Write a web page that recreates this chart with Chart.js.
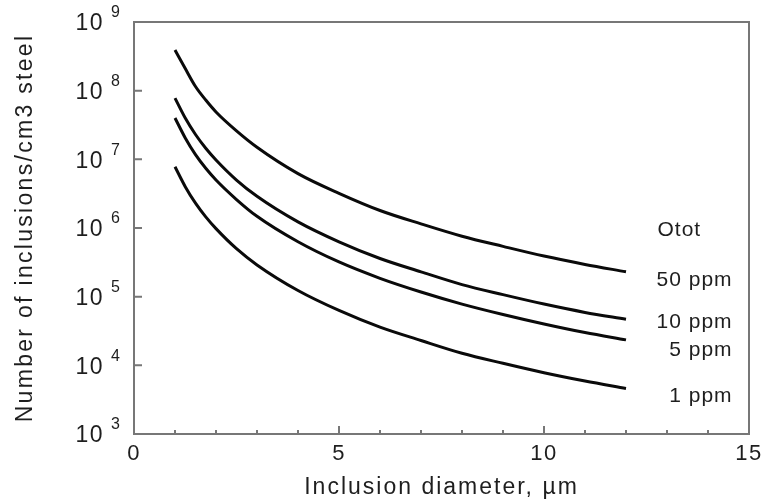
<!DOCTYPE html>
<html>
<head>
<meta charset="utf-8">
<script src="https://cdn.jsdelivr.net/npm/chart.js@4.4.1/dist/chart.umd.min.js"></script>
<style>
  html, body { margin: 0; background: #fff; }
</style>
</head>
<body>
<canvas id="chart" width="763" height="504"></canvas>
<script>
// inclusion diameter (um) and number of inclusions per cm3 steel
const diameters = [1, 1.25, 1.5, 1.75, 2, 2.5, 3, 4, 5, 6, 7, 8, 9, 10, 11, 12];
const ppm50 = [3.9e8, 2.1e8, 1.15e8, 7.3e7, 4.9e7, 2.6e7, 1.5e7, 6.2e6, 3.2e6, 1.8e6, 1.15e6, 7.6e5, 5.4e5, 3.9e5, 2.95e5, 2.3e5];
const ppm10 = [7.8e7, 4.0e7, 2.3e7, 1.45e7, 9.8e6, 5.0e6, 2.9e6, 1.23e6, 6.3e5, 3.6e5, 2.3e5, 1.5e5, 1.07e5, 7.8e4, 5.9e4, 4.7e4];
const ppm5  = [4.0e7, 2.05e7, 1.17e7, 7.4e6, 5.0e6, 2.6e6, 1.48e6, 6.3e5, 3.2e5, 1.85e5, 1.17e5, 7.8e4, 5.5e4, 4.0e4, 3.0e4, 2.35e4];
const ppm1  = [7.8e6, 4.0e6, 2.3e6, 1.45e6, 9.8e5, 5.0e5, 2.9e5, 1.23e5, 6.3e4, 3.6e4, 2.3e4, 1.5e4, 1.07e4, 7.8e3, 5.9e3, 4.6e3];

const seriesNames = ["50 ppm", "10 ppm", "5 ppm", "1 ppm"];
const seriesLabelY = [1.74e5, 4.3e4, 1.66e4, 3.5e3];
const legendTitle = "Otot";
const legendTitleY = 9.3e5;

const xTicks = [0, 5, 10, 15];
const yExponents = [3, 4, 5, 6, 7, 8, 9];

const TEXT = "#1e1e1e";
const FONT = "Liberation Sans, Arial, sans-serif";

const toPoints = ys => diameters.map((d, i) => ({ x: d, y: ys[i] }));

/* axes frame, tick marks and all texts */
const frameAndText = {
  id: "frameAndText",
  afterDraw(chart) {
    const { ctx, chartArea: a, scales } = chart;
    const x = scales.x, y = scales.y;
    ctx.save();

    // frame
    ctx.strokeStyle = "#777";
    ctx.lineWidth = 2;
    ctx.strokeRect(a.left, a.top, a.right - a.left, a.bottom - a.top);

    // inward ticks
    ctx.beginPath();
    for (let i = 1; i < 15; i++) {
      const px = x.getPixelForValue(i);
      ctx.moveTo(px, a.bottom);
      ctx.lineTo(px, a.bottom - (i % 5 ? 4 : 8));
    }
    yExponents.forEach(e => {
      const py = y.getPixelForValue(10 ** e);
      ctx.moveTo(a.left, py);
      ctx.lineTo(a.left + 8, py);
    });
    ctx.stroke();

    ctx.fillStyle = TEXT;
    ctx.letterSpacing = "1.5px";

    // y tick labels: 10 with exponent
    yExponents.forEach(e => {
      const py = y.getPixelForValue(10 ** e);
      ctx.font = `23px ${FONT}`;
      ctx.textAlign = "right";
      ctx.textBaseline = "middle";
      ctx.fillText("10", a.left - 30, py + 2);
      ctx.font = `16px ${FONT}`;
      ctx.textAlign = "left";
      ctx.fillText(String(e), a.left - 23, py - 9);
    });

    // x tick labels
    ctx.font = `22px ${FONT}`;
    ctx.textAlign = "center";
    ctx.textBaseline = "middle";
    xTicks.forEach(v => ctx.fillText(String(v), x.getPixelForValue(v), a.bottom + 20));

    // axis titles
    ctx.letterSpacing = "2px";
    ctx.font = `23px ${FONT}`;
    ctx.fillText("Inclusion diameter, \u00b5m", (a.left + a.right) / 2, a.bottom + 54);
    ctx.save();
    ctx.translate(26, (a.top + a.bottom) / 2);
    ctx.rotate(-Math.PI / 2);
    ctx.letterSpacing = "2.3px";
    ctx.fillText("Number of inclusions/cm3 steel", 0, 0);
    ctx.restore();

    // series labels
    ctx.letterSpacing = "1px";
    ctx.font = `21px ${FONT}`;
    ctx.fillText(legendTitle, x.getPixelForValue(13.3), y.getPixelForValue(legendTitleY));
    ctx.textAlign = "right";
    seriesNames.forEach((n, i) => {
      ctx.fillText(n, x.getPixelForValue(14.6), y.getPixelForValue(seriesLabelY[i]));
    });

    ctx.restore();
  }
};

const lineStyle = {
  borderColor: "#0a0a0a",
  borderWidth: 3,
  pointRadius: 0,
  fill: false,
  cubicInterpolationMode: "monotone"
};

new Chart(document.getElementById("chart"), {
  type: "line",
  data: {
    datasets: [
      { label: seriesNames[0], data: toPoints(ppm50), ...lineStyle },
      { label: seriesNames[1], data: toPoints(ppm10), ...lineStyle },
      { label: seriesNames[2], data: toPoints(ppm5), ...lineStyle },
      { label: seriesNames[3], data: toPoints(ppm1), ...lineStyle }
    ]
  },
  options: {
    responsive: false,
    animation: false,
    devicePixelRatio: 1,
    layout: { padding: { left: 134, right: 14, top: 22, bottom: 70 } },
    scales: {
      x: { type: "linear", min: 0, max: 15, display: false },
      y: { type: "logarithmic", min: 1e3, max: 1e9, display: false }
    },
    plugins: { legend: { display: false }, tooltip: { enabled: false } }
  },
  plugins: [frameAndText]
});
</script>
</body>
</html>
